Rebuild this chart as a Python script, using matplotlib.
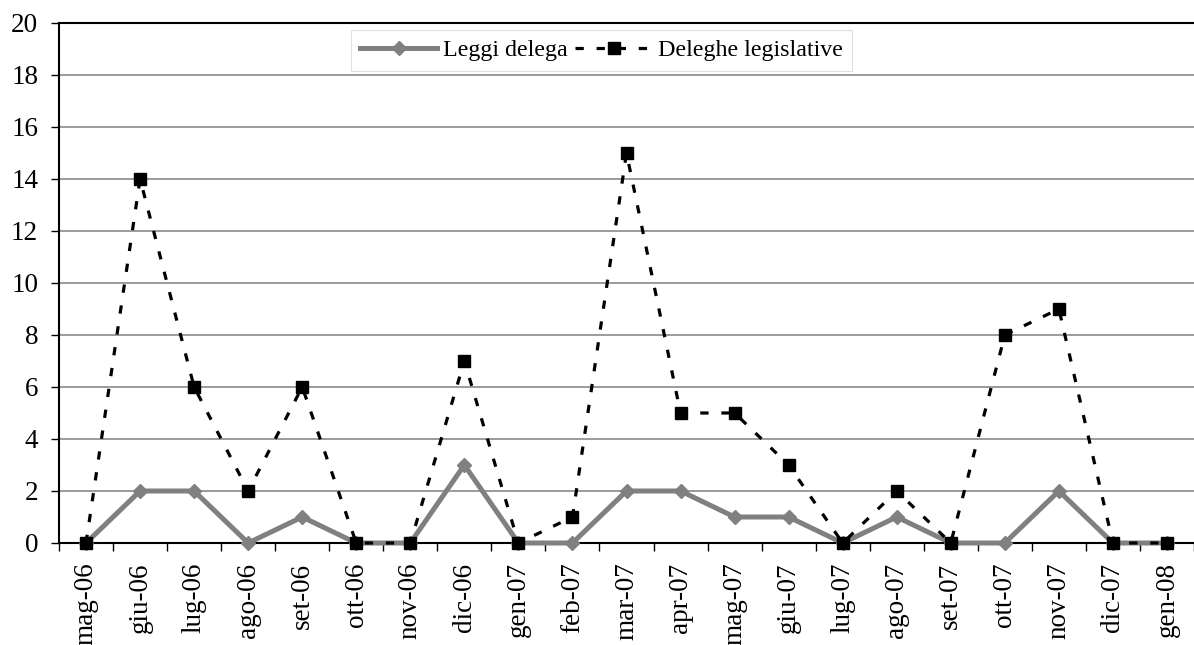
import matplotlib
matplotlib.use("Agg")
import matplotlib.pyplot as plt

categories = ["mag-06", "giu-06", "lug-06", "ago-06", "set-06", "ott-06", "nov-06",
              "dic-06", "gen-07", "feb-07", "mar-07", "apr-07", "mag-07", "giu-07",
              "lug-07", "ago-07", "set-07", "ott-07", "nov-07", "dic-07", "gen-08"]
leggi_delega = [0, 2, 2, 0, 1, 0, 0, 3, 0, 0, 2, 2, 1, 1, 0, 1, 0, 0, 2, 0, 0]
deleghe_legislative = [0, 14, 6, 2, 6, 0, 0, 7, 0, 1, 15, 5, 5, 3, 0, 2, 0, 8, 9, 0, 0]
y_ticks = [0, 2, 4, 6, 8, 10, 12, 14, 16, 18, 20]

plt.rcParams['font.family'] = 'serif'
plt.rcParams['font.serif'] = ['Liberation Serif', 'Times New Roman', 'DejaVu Serif']

W, H = 1194, 645
fig = plt.figure(figsize=(W / 100, H / 100), dpi=100)
ax = fig.add_axes([59 / W, (H - 543) / H, 1135 / W, 520 / H])

x = list(range(len(categories)))
ax.plot(x, leggi_delega, color='#808080', lw=3.6, marker='D', markersize=7,
        markerfacecolor='#808080', markeredgecolor='#808080',
        label='Leggi delega', zorder=3, clip_on=False)
ax.plot(x, deleghe_legislative, color='black', lw=2.3, linestyle=(0, (2.6, 4.0)),
        marker='s', markersize=9, markerfacecolor='black', markeredgecolor='black',
        label='Deleghe legislative', zorder=4, clip_on=False)

ax.set_xlim(-0.5, 20.29)
ax.set_ylim(0, 20)
ax.set_yticks(y_ticks)
ax.set_yticklabels([str(v) for v in y_ticks], fontsize=19.5)
ax.set_xticks(x)
ax.set_xticklabels(categories, rotation=90, fontsize=19.5)
ax.set_xticks([i + 0.5 for i in range(-1, len(categories))], minor=True)
ax.tick_params(axis='x', which='major', length=0, pad=14)
ax.tick_params(axis='x', which='minor', length=6, width=1, direction='out')
ax.tick_params(axis='y', length=6, width=1, direction='out', pad=9)

for v in y_ticks[1:-1]:
    ax.axhline(v, color='#808080', lw=1.1, zorder=1)

for s in ['left', 'bottom', 'top']:
    ax.spines[s].set_color('black')
    ax.spines[s].set_linewidth(1.5)
ax.spines['right'].set_visible(False)

leg = ax.legend(loc='center', bbox_to_anchor=(0.478, 0.948), ncol=2, fontsize=17.3,
                frameon=True, fancybox=False, handlelength=3.2, handletextpad=0.25,
                columnspacing=0.3, borderpad=0.4, borderaxespad=0, framealpha=1)
leg.get_frame().set_edgecolor('#e0e0e0')
leg.get_frame().set_linewidth(0.8)
leg.set_zorder(5)

fig.savefig('out.png', dpi=100)
